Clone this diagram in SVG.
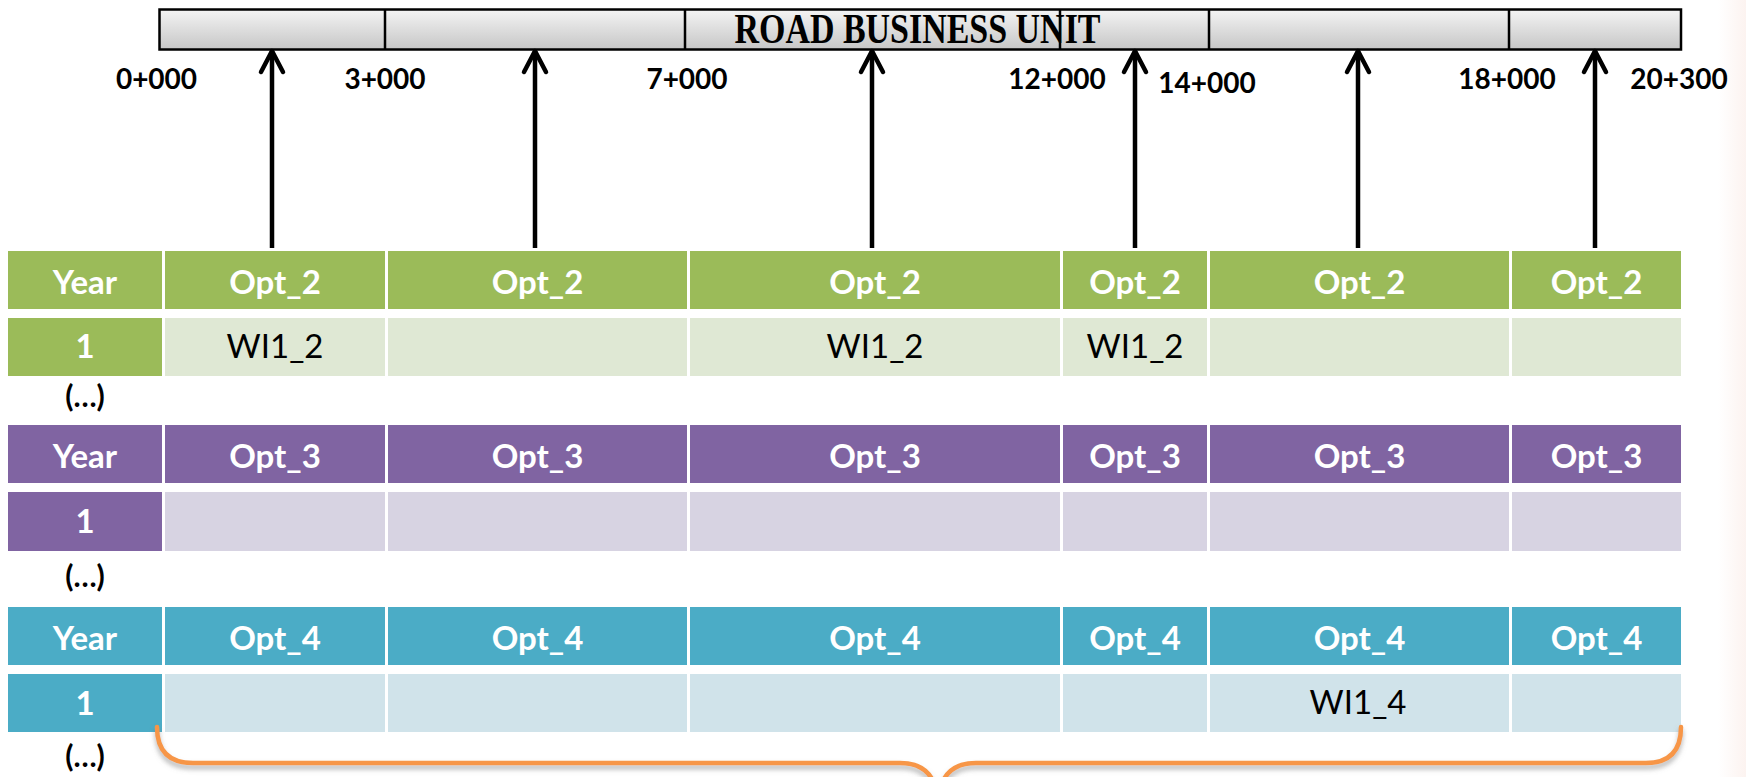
<svg xmlns="http://www.w3.org/2000/svg" width="1746" height="777" viewBox="0 0 1746 777">
<defs>
<linearGradient id="barGrad" x1="0" y1="0" x2="0" y2="1">
<stop offset="0" stop-color="#F4F4F4"/>
<stop offset="1" stop-color="#C6C6C6"/>
</linearGradient>
<linearGradient id="pinkGrad" x1="0" y1="0" x2="1" y2="0">
<stop offset="0" stop-color="#FFFFFF"/>
<stop offset="1" stop-color="#FCF3F0"/>
</linearGradient>
<marker id="chev" markerUnits="userSpaceOnUse" viewBox="-26 -15 30 30" refX="0" refY="0" markerWidth="30" markerHeight="30" orient="auto">
<path d="M-21,-11 L0,0 L-21,11" fill="none" stroke="#000" stroke-width="4.5" stroke-linecap="round" stroke-linejoin="round"/>
</marker>
<filter id="shadow" x="-5%" y="-50%" width="110%" height="200%">
<feDropShadow dx="0" dy="4" stdDeviation="2.5" flood-color="#777" flood-opacity="0.55"/>
</filter>
</defs>
<style>
.lbl{font-family:Lato,"Liberation Sans",sans-serif;font-weight:bold;font-size:28px;fill:#000;text-anchor:middle}
.hdr{font-family:Lato,"Liberation Sans",sans-serif;font-weight:bold;font-size:33px;fill:#fff;text-anchor:middle}
.cell{font-family:Lato,"Liberation Sans",sans-serif;font-size:33px;fill:#000;text-anchor:middle}
.dots{font-family:Lato,"Liberation Sans",sans-serif;font-weight:bold;font-size:30px;fill:#000;text-anchor:middle}
.bar{fill:url(#barGrad);stroke:#000;stroke-width:2.5}
.div{stroke:#000;stroke-width:2.5}
.arrow{stroke:#000;stroke-width:4.5;fill:none;marker-end:url(#chev)}
.g-h{fill:#9BBB59}.g-r{fill:#DFE8D4}
.p-h{fill:#8064A2}.p-r{fill:#D7D3E2}
.t-h{fill:#4BACC6}.t-r{fill:#D0E3EA}
.brace{fill:none;stroke:#F79646;stroke-width:4.5;stroke-linecap:round}
</style>
<rect x="0" y="0" width="1746" height="777" fill="#fff"/>
<rect x="1718" y="0" width="28" height="777" fill="url(#pinkGrad)"/>

<g id="road-bar">
<rect class="bar" x="159.5" y="9.5" width="1521.5" height="40"/>
<line class="div" x1="385" y1="9.5" x2="385" y2="49.5"/>
<line class="div" x1="685" y1="9.5" x2="685" y2="49.5"/>
<line class="div" x1="1060" y1="9.5" x2="1060" y2="49.5"/>
<line class="div" x1="1209" y1="9.5" x2="1209" y2="49.5"/>
<line class="div" x1="1509" y1="9.5" x2="1509" y2="49.5"/>
<text x="917.5" y="43.3" font-family="'Liberation Serif','Times New Roman',serif" font-weight="bold" font-size="42" text-anchor="middle" textLength="366" lengthAdjust="spacingAndGlyphs" fill="#000">ROAD BUSINESS UNIT</text>
</g>

<g id="chainage-labels">
<text class="lbl" x="156.5" y="89">0+000</text>
<text class="lbl" x="385" y="89">3+000</text>
<text class="lbl" x="687" y="89">7+000</text>
<text class="lbl" x="1057" y="89">12+000</text>
<text class="lbl" x="1207" y="93">14+000</text>
<text class="lbl" x="1507" y="89">18+000</text>
<text class="lbl" x="1679" y="89">20+300</text>
</g>

<g id="connectors">
<line class="arrow" x1="272" y1="248" x2="272" y2="51"/>
<line class="arrow" x1="535" y1="248" x2="535" y2="51"/>
<line class="arrow" x1="872" y1="248" x2="872" y2="51"/>
<line class="arrow" x1="1135" y1="248" x2="1135" y2="51"/>
<line class="arrow" x1="1358" y1="248" x2="1358" y2="51"/>
<line class="arrow" x1="1595" y1="248" x2="1595" y2="51"/>
</g>

<g id="table-opt2">
<rect class="g-h" x="8" y="251" width="154" height="58"/>
<rect class="g-h" x="165" y="251" width="220" height="58"/>
<rect class="g-h" x="388" y="251" width="299" height="58"/>
<rect class="g-h" x="690" y="251" width="370" height="58"/>
<rect class="g-h" x="1063" y="251" width="144" height="58"/>
<rect class="g-h" x="1210" y="251" width="299" height="58"/>
<rect class="g-h" x="1512" y="251" width="169" height="58"/>
<rect class="g-h" x="8" y="318" width="154" height="58"/>
<rect class="g-r" x="165" y="318" width="220" height="58"/>
<rect class="g-r" x="388" y="318" width="299" height="58"/>
<rect class="g-r" x="690" y="318" width="370" height="58"/>
<rect class="g-r" x="1063" y="318" width="144" height="58"/>
<rect class="g-r" x="1210" y="318" width="299" height="58"/>
<rect class="g-r" x="1512" y="318" width="169" height="58"/>
<text class="hdr" x="85" y="294">Year</text>
<text class="hdr" x="275" y="294">Opt_2</text>
<text class="hdr" x="537.5" y="294">Opt_2</text>
<text class="hdr" x="875" y="294">Opt_2</text>
<text class="hdr" x="1135" y="294">Opt_2</text>
<text class="hdr" x="1359.5" y="294">Opt_2</text>
<text class="hdr" x="1596.5" y="294">Opt_2</text>
<text class="hdr" x="85" y="358">1</text>
<text class="cell" x="275" y="358">WI1_2</text>
<text class="cell" x="875" y="358">WI1_2</text>
<text class="cell" x="1135" y="358">WI1_2</text>
<text class="dots" x="85" y="407">(…)</text>
</g>

<g id="table-opt3">
<rect class="p-h" x="8" y="425" width="154" height="58"/>
<rect class="p-h" x="165" y="425" width="220" height="58"/>
<rect class="p-h" x="388" y="425" width="299" height="58"/>
<rect class="p-h" x="690" y="425" width="370" height="58"/>
<rect class="p-h" x="1063" y="425" width="144" height="58"/>
<rect class="p-h" x="1210" y="425" width="299" height="58"/>
<rect class="p-h" x="1512" y="425" width="169" height="58"/>
<rect class="p-h" x="8" y="492" width="154" height="59"/>
<rect class="p-r" x="165" y="492" width="220" height="59"/>
<rect class="p-r" x="388" y="492" width="299" height="59"/>
<rect class="p-r" x="690" y="492" width="370" height="59"/>
<rect class="p-r" x="1063" y="492" width="144" height="59"/>
<rect class="p-r" x="1210" y="492" width="299" height="59"/>
<rect class="p-r" x="1512" y="492" width="169" height="59"/>
<text class="hdr" x="85" y="468">Year</text>
<text class="hdr" x="275" y="468">Opt_3</text>
<text class="hdr" x="537.5" y="468">Opt_3</text>
<text class="hdr" x="875" y="468">Opt_3</text>
<text class="hdr" x="1135" y="468">Opt_3</text>
<text class="hdr" x="1359.5" y="468">Opt_3</text>
<text class="hdr" x="1596.5" y="468">Opt_3</text>
<text class="hdr" x="85" y="533">1</text>
<text class="dots" x="85" y="587">(…)</text>
</g>

<g id="table-opt4">
<rect class="t-h" x="8" y="607" width="154" height="58"/>
<rect class="t-h" x="165" y="607" width="220" height="58"/>
<rect class="t-h" x="388" y="607" width="299" height="58"/>
<rect class="t-h" x="690" y="607" width="370" height="58"/>
<rect class="t-h" x="1063" y="607" width="144" height="58"/>
<rect class="t-h" x="1210" y="607" width="299" height="58"/>
<rect class="t-h" x="1512" y="607" width="169" height="58"/>
<rect class="t-h" x="8" y="674" width="154" height="58"/>
<rect class="t-r" x="165" y="674" width="220" height="58"/>
<rect class="t-r" x="388" y="674" width="299" height="58"/>
<rect class="t-r" x="690" y="674" width="370" height="58"/>
<rect class="t-r" x="1063" y="674" width="144" height="58"/>
<rect class="t-r" x="1210" y="674" width="299" height="58"/>
<rect class="t-r" x="1512" y="674" width="169" height="58"/>
<text class="hdr" x="85" y="650">Year</text>
<text class="hdr" x="275" y="650">Opt_4</text>
<text class="hdr" x="537.5" y="650">Opt_4</text>
<text class="hdr" x="875" y="650">Opt_4</text>
<text class="hdr" x="1135" y="650">Opt_4</text>
<text class="hdr" x="1359.5" y="650">Opt_4</text>
<text class="hdr" x="1596.5" y="650">Opt_4</text>
<text class="hdr" x="85" y="715">1</text>
<text class="cell" x="1358" y="714">WI1_4</text>
<text class="dots" x="85" y="767">(…)</text>
</g>

<g id="brace" filter="url(#shadow)">
<path class="brace" d="M157,727 Q157,763 193,763 L900,763 Q930,763 936,790 L938,800 M938,800 L940,790 Q946,763 976,763 L1646,763 Q1681,763 1681,727"/>
</g>
</svg>
